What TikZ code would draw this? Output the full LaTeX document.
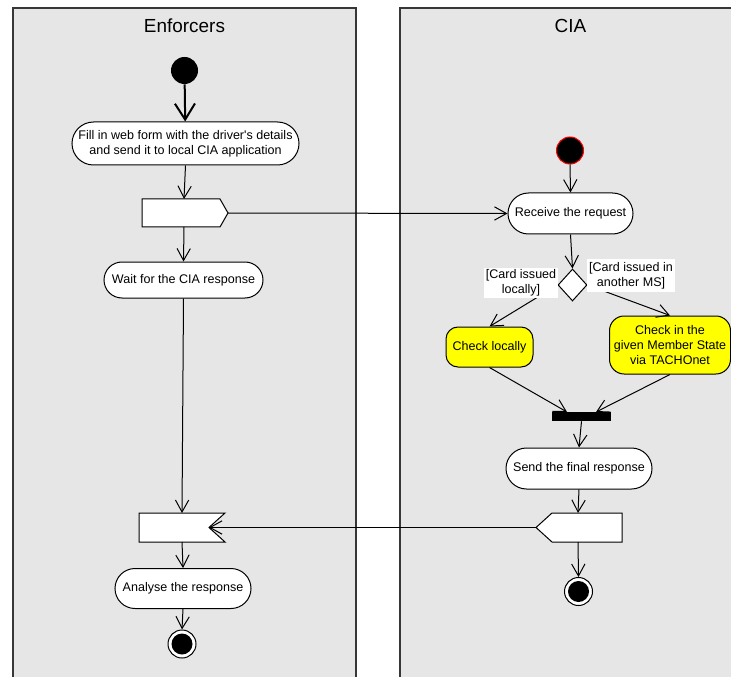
\documentclass[tikz,border=0pt]{standalone}
\usepackage{fontspec}
\setmainfont{Liberation Sans}
\usetikzlibrary{arrows.meta,shapes.geometric,shapes.misc}
\newdimen\pxu \pxu=0.75pt
\newcommand\actfont{\fontsize{9.4}{11.2}\selectfont}
\newcommand\lanefont{\fontsize{14.2}{16}\selectfont}
\definecolor{lanefill}{RGB}{230,230,230}
\definecolor{laneline}{RGB}{55,55,55}
\definecolor{actyellow}{RGB}{255,255,0}
\begin{document}
\begin{tikzpicture}[x=0.75pt,y=-0.75pt,
  lane/.style={draw=laneline, fill=lanefill, line width=1pt},
  lanetitle/.style={font=\lanefont, inner sep=0pt},
  act/.style={rounded rectangle, draw, line width=0.75pt, fill=white,
    align=center, inner sep=0pt, font=\actfont},
  hiact/.style={rectangle, draw, line width=0.75pt, fill=actyellow,
    align=center, inner sep=0pt, font=\actfont},
  guard/.style={fill=white, align=center, inner sep=0pt, font=\actfont},
  sig/.style={draw, line width=0.75pt, fill=white},
  initial/.style={circle, fill=black, inner sep=0pt, minimum size=27*\pxu},
  final/.style={circle, draw, line width=0.75pt, fill=white, inner sep=0pt,
    minimum size=28*\pxu, path picture={\fill[black] (path picture bounding box.center) circle[radius=10.5*\pxu];}},
  flow/.style={draw, line width=0.75pt, -{Straight Barb[length=9pt,width=10pt,line width=0.75pt]}},
  bigflow/.style={draw, line width=1.5pt, -{Straight Barb[length=12pt,width=15pt,line width=1.5pt]}}
]
\useasboundingbox (0,0) rectangle (731,677);
\begin{scope}
\clip (0,0) rectangle (731,677);
% swimlanes
\path[lane] (13,8) rectangle (356,690);
\path[lane] (400,8) rectangle (745,690);
\end{scope}
\node[lanetitle] (tEnf) at (184.5,26) {Enforcers};
\node[lanetitle] (tCia) at (570.5,26) {CIA};

% ---- Enforcers lane ----
\node[initial] (start1) at (184.5,70.5) {};
\node[act, minimum width=227*\pxu, minimum height=43*\pxu] (fill) at (185.5,143.5)
  {Fill in web form with the driver\textquotesingle s details\\and send it to local CIA application};
% send signal (request)
\draw[sig] (142,199) -- (220,199) -- (228,213) -- (220,227) -- (142,227) -- cycle;
\coordinate (sendLtop) at (184,199);
\coordinate (sendLbot) at (184,227);
\coordinate (sendLtip) at (228,213);
\node[act, minimum width=159*\pxu, minimum height=36*\pxu] (wait) at (183.5,280)
  {Wait for the CIA response};
% accept signal (response)
\draw[sig] (139,513) -- (225,513) -- (209,527.5) -- (225,542) -- (139,542) -- cycle;
\coordinate (accLtop) at (182,513);
\coordinate (accLbot) at (182,542);
\coordinate (accLnotch) at (209,527.5);
\node[act, minimum width=136*\pxu, minimum height=40*\pxu] (analyse) at (183,588.5)
  {Analyse the response};
\node[final] (end1) at (182,644) {};

% ---- CIA lane ----
\node[initial, draw=red, line width=0.75pt] (start2) at (570,150.5) {};
\node[act, minimum width=125*\pxu, minimum height=41*\pxu] (receive) at (570.5,213.5)
  {Receive the request};
\node[diamond, draw, line width=0.75pt, fill=white, inner sep=0pt, aspect=0.9,
  minimum width=29*\pxu, minimum height=32*\pxu] (dec) at (572.5,285) {};
\node[hiact, rounded corners=9pt, minimum width=87*\pxu, minimum height=40*\pxu] (checkL) at (489.5,347)
  {Check locally};
\node[hiact, rounded corners=11pt, minimum width=121*\pxu, minimum height=58*\pxu] (checkR) at (670,345)
  {Check in the\\given Member State\\via TACHOnet};
\node[rectangle, fill=black, inner sep=0pt, minimum width=59*\pxu, minimum height=9*\pxu] (bar) at (581.5,416.5) {};
\coordinate (barinL) at (567,412);
\coordinate (barinR) at (596,412);
\node[act, minimum width=146*\pxu, minimum height=41*\pxu] (send) at (579,468.5)
  {Send the final response};
% send signal (response)
\draw[sig] (536,527.5) -- (552,513) -- (622,513) -- (622,542) -- (552,542) -- cycle;
\coordinate (sendRtop) at (578,513);
\coordinate (sendRbot) at (578,542);
\coordinate (sendRtip) at (536,527.5);
\node[final] (end2) at (578.5,591.5) {};

% ---- control flows ----
\path[bigflow] (start1) -- (fill);
\path[flow] (fill.south) -- (sendLtop);
\path[flow] (sendLbot) -- (wait.north);
\path[flow] (sendLtip) -- (receive.west);
\path[flow] (wait.south) -- (accLtop);
\path[flow] (accLbot) -- (analyse.north);
\path[flow] (analyse.south) -- (end1.north);

\path[flow] (start2.south) -- (receive.north);
\path[flow] (receive.south) -- (dec.north);
\path[flow] (dec.west) -- (checkL.north);
\path[flow] (dec.east) -- (checkR.north);
\path[flow] (checkL.south) -- (barinL);
\path[flow] (checkR.south) -- (barinR);
\path[flow] (bar.south) -- (send.north);
\path[flow] (send.south) -- (sendRtop);
\path[flow] (sendRtip) -- (accLnotch);
\path[flow] (sendRbot) -- (end2.north);

% guards
\node[guard, minimum width=74*\pxu, minimum height=30*\pxu] (gLocal) at (521,283)
  {[Card issued\\locally]};
\node[guard, minimum width=88*\pxu, minimum height=33*\pxu] (gOther) at (631,275.5)
  {[Card issued in\\another MS]};
\end{tikzpicture}
\end{document}
